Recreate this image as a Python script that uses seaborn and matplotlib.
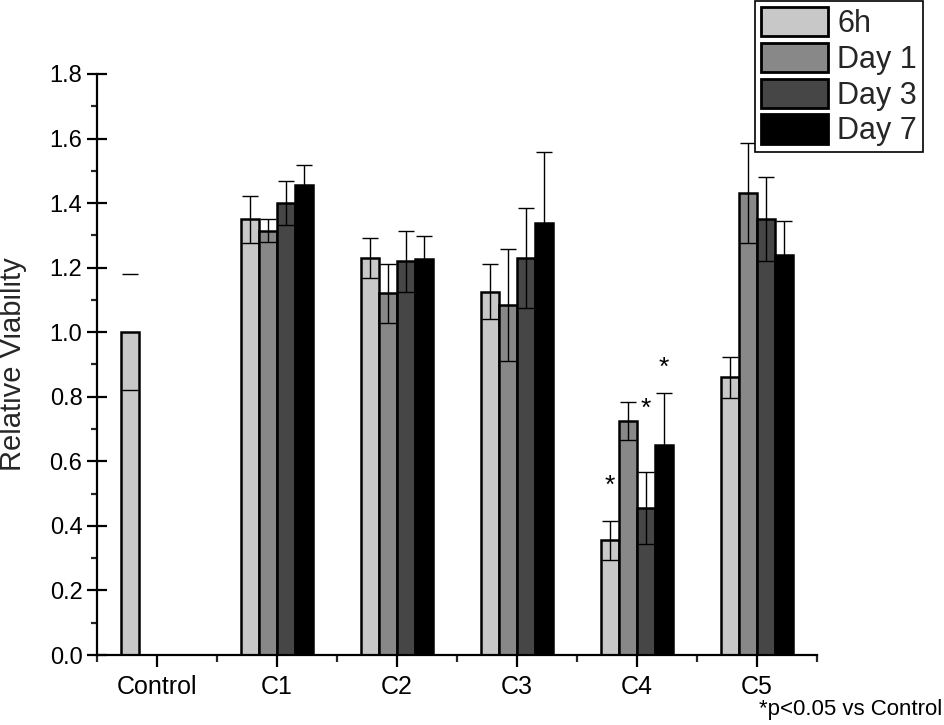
import numpy as np
import pandas as pd
import matplotlib
matplotlib.use("Agg")
import matplotlib.pyplot as plt
import seaborn as sns

categories = ["Control", "C1", "C2", "C3", "C4", "C5"]
times = ["6h", "Day 1", "Day 3", "Day 7"]

v_6h = [1.00, 1.35, 1.23, 1.125, 0.355, 0.86]
v_d1 = [np.nan, 1.315, 1.12, 1.085, 0.725, 1.43]
v_d3 = [np.nan, 1.40, 1.22, 1.23, 0.455, 1.352]
v_d7 = [np.nan, 1.455, 1.227, 1.337, 0.65, 1.24]

e_6h = [0.18, 0.073, 0.062, 0.085, 0.06, 0.063]
e_d1 = [np.nan, 0.036, 0.09, 0.173, 0.06, 0.155]
e_d3 = [np.nan, 0.068, 0.095, 0.155, 0.112, 0.13]
e_d7 = [np.nan, 0.062, 0.07, 0.22, 0.161, 0.105]

colors = ["#c8c8c8", "#888888", "#464646", "#000000"]

star_cat = ["C4", "C4", "C4"]
star_time = ["6h", "Day 3", "Day 7"]
star_y = [0.524, 0.762, 0.889]

values = {"6h": v_6h, "Day 1": v_d1, "Day 3": v_d3, "Day 7": v_d7}
errors = {"6h": e_6h, "Day 1": e_d1, "Day 3": e_d3, "Day 7": e_d7}

rows = []
for t in times:
    for c, v, e in zip(categories, values[t], errors[t]):
        if not np.isnan(v):
            rows.append({"Group": c, "Time": t, "Viability": v, "Err": e})
df = pd.DataFrame(rows)

sns.set_style("ticks")
plt.rcParams["font.family"] = ["Liberation Sans", "DejaVu Sans"]

fig = plt.figure(figsize=(9.45, 7.25), dpi=100)
ax = fig.add_axes([97/945, 70/725, 720/945, 581/725])

sns.barplot(data=df, x="Group", y="Viability", hue="Time", order=categories,
            hue_order=times, palette=colors, width=0.6, errorbar=None,
            edgecolor="black", linewidth=1.8, ax=ax, legend=True)

# error bars from bar positions
for ti, (t, cont) in enumerate(zip(times, ax.containers)):
    for patch in cont:
        xc = patch.get_x() + patch.get_width() / 2
        ci = int(round(xc))
        v = values[t][ci]
        e = errors[t][ci]
        if np.isnan(v):
            continue
        eb = ax.errorbar(xc, v, yerr=e, fmt="none", ecolor="black",
                         elinewidth=1.0, capsize=6, capthick=1.0, zorder=5)
        if categories[ci] == "Control":
            for lc in eb[2]:
                lc.set_visible(False)

# significance stars
for c, t, y in zip(star_cat, star_time, star_y):
    cont = ax.containers[times.index(t)]
    for patch in cont:
        xc = patch.get_x() + patch.get_width() / 2
        if int(round(xc)) == categories.index(c):
            ax.text(xc, y, "*", ha="center", va="center", fontsize=19, color="black")

ax.set_xlim(-0.5, 5.5)
ax.set_ylim(0, 1.8)
ax.set_yticks(np.arange(0, 1.81, 0.2))
ax.set_yticklabels([f"{v:.1f}" for v in np.arange(0, 1.81, 0.2)])
ax.set_yticks(np.arange(0.1, 1.8, 0.2), minor=True)
ax.set_xticks(np.arange(-0.5, 5.6, 1.0), minor=True)
sns.despine(ax=ax)
for s in ["left", "bottom"]:
    ax.spines[s].set_linewidth(1.6)
    ax.spines[s].set_color("black")

ax.tick_params(axis="y", which="major", direction="inout", length=15, width=1.6,
               labelsize=17, pad=3, colors="black")
ax.tick_params(axis="y", which="minor", direction="out", length=4.5, width=1.6)
ax.tick_params(axis="x", which="major", direction="out", length=8.5, width=1.6,
               labelsize=18, pad=6, colors="black")
ax.tick_params(axis="x", which="minor", direction="out", length=5, width=1.6)

ax.set_xlabel("")
ax.set_ylabel("Relative Viability", fontsize=21)
ax.yaxis.set_label_coords(-0.097, 0.5)

handles, labels = ax.get_legend_handles_labels()
ax.get_legend().remove()
leg = fig.legend(handles, labels, loc="upper right",
                 bbox_to_anchor=(923/945, 1 - 1/725), bbox_transform=fig.transFigure,
                 fontsize=22, frameon=True, fancybox=False, edgecolor="black",
                 framealpha=1, handlelength=2.2, handleheight=1.1,
                 labelspacing=0.12, borderpad=0.2, handletextpad=0.3,
                 borderaxespad=0)
leg.get_frame().set_linewidth(1.2)
for h in leg.get_patches():
    h.set_edgecolor("black")
    h.set_linewidth(2)

fig.text(942/945, 1 - 710/725, "*p<0.05 vs Control", ha="right", va="center",
         fontsize=16, color="black")

fig.savefig("out.png", dpi=100)
